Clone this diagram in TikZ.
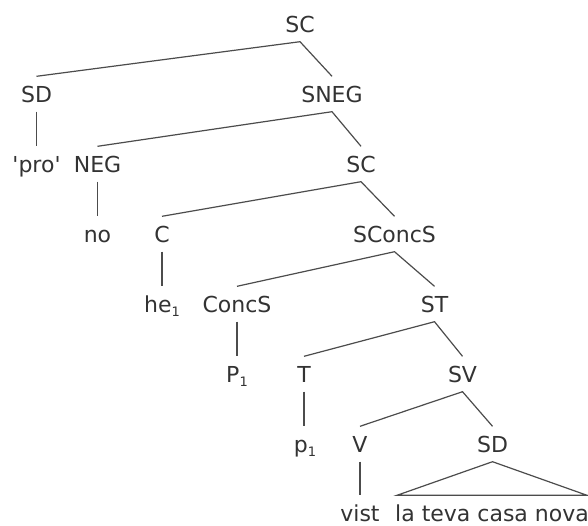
\documentclass[tikz,border=0pt]{standalone}
\usepackage{fontspec}
\setmainfont{DejaVu Sans}
\newcommand{\subone}{\raisebox{-4pt}{\fontsize{13}{13}\selectfont 1}}
\begin{document}
\begin{tikzpicture}[x=1pt,y=-1pt,
  lab/.style={inner sep=0pt, minimum height=35pt, text height=16pt, text depth=0pt,
    font=\fontsize{22}{22}\selectfont, text=black!80},
  edge/.style={draw=black!70, line width=1.2pt}]
\useasboundingbox[fill=white] (0,0) rectangle (588,525);
% nodes
\node[lab] (sc0) at (300,24) {SC};
\node[lab] (sd1) at (36.5,94) {SD};
\node[lab] (sneg) at (332,94) {SNEG};
\node[lab] (pro) at (36.5,164) {\textquotesingle pro\textquotesingle};
\node[lab] (neg) at (97.5,164) {NEG};
\node[lab] (sc2) at (361,164) {SC};
\node[lab] (no) at (97.5,234) {no};
\node[lab] (c) at (162,234) {C};
\node[lab] (sconcs) at (394.5,234) {SConcS};
\node[lab] (he) at (162,304) {he\subone};
\node[lab] (concs) at (237,304) {ConcS};
\node[lab] (st) at (434.5,304) {ST};
\node[lab] (p1) at (237,374) {P\subone};
\node[lab] (t) at (304,374) {T};
\node[lab] (sv) at (462.5,374) {SV};
\node[lab] (pp) at (305,444) {p\subone};
\node[lab] (v) at (360,444) {V};
\node[lab] (sd2) at (492.5,444) {SD};
\node[lab] (vist) at (360,513) {vist};
\node[lab, inner xsep=-2pt] (lt) at (492,513) {la teva casa nova};
% edges
\draw[edge] (sd1.north) -- (sc0.south) -- (sneg.north);
\draw[edge] (sd1.south) -- (pro.north);
\draw[edge] (neg.north) -- (sneg.south) -- (sc2.north);
\draw[edge] (neg.south) -- (no.north);
\draw[edge] (c.north) -- (sc2.south) -- (sconcs.north);
\draw[edge] (c.south) -- (he.north);
\draw[edge] (concs.north) -- (sconcs.south) -- (st.north);
\draw[edge] (concs.south) -- (p1.north);
\draw[edge] (t.north) -- (st.south) -- (sv.north);
\draw[edge] (t.south) -- (t.south |- pp.north);
\draw[edge] (v.north) -- (sv.south) -- (sd2.north);
\draw[edge] (v.south) -- (vist.north);
\draw[edge] (sd2.south) -- (lt.north west) -- (lt.north east) -- cycle;
\end{tikzpicture}
\end{document}
